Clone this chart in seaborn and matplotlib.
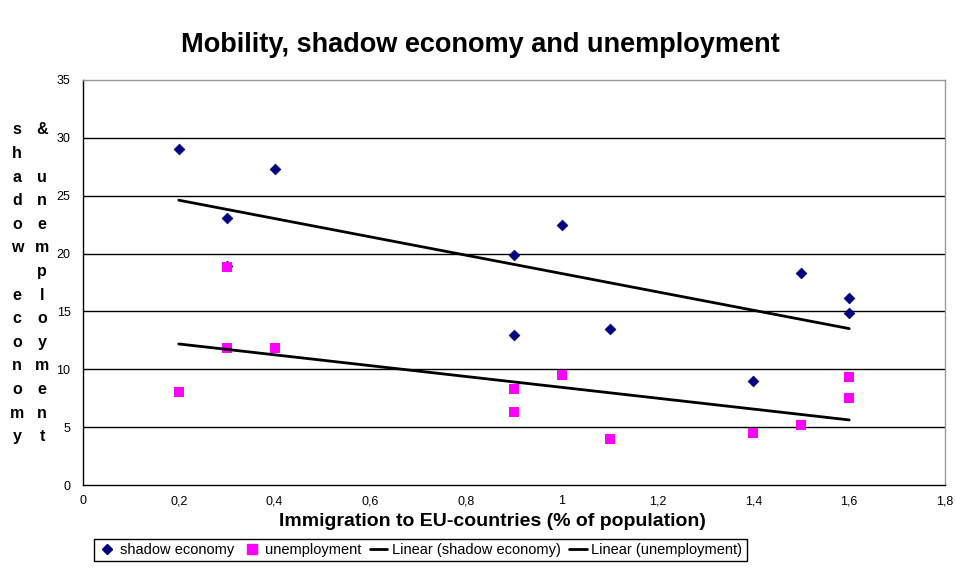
import matplotlib
matplotlib.use("Agg")
import matplotlib.pyplot as plt
import seaborn as sns
from matplotlib.lines import Line2D

# ── Data ───────────────────────────────────────────────────────────────────
immigration = [0.2, 0.3, 0.3, 0.4, 0.9, 0.9, 1.0, 1.1, 1.4, 1.5, 1.6, 1.6]
shadow      = [29.0, 23.1, 18.9, 27.3, 19.9, 13.0, 22.5, 13.5, 9.0, 18.3, 16.2, 14.9]
unemploy    = [8.0, 11.8, 18.8, 11.8, 8.3, 6.3, 9.5, 4.0, 4.5, 5.2, 9.3, 7.5]

x_ticks  = [0, 0.2, 0.4, 0.6, 0.8, 1.0, 1.2, 1.4, 1.6, 1.8]
x_labels = ["0", "0,2", "0,4", "0,6", "0,8", "1", "1,2", "1,4", "1,6", "1,8"]
y_ticks  = [0, 5, 10, 15, 20, 25, 30, 35]

NAVY    = "#000080"
MAGENTA = "#FF00FF"

sns.set_style("white")
plt.rcParams["font.family"] = ["Liberation Sans", "DejaVu Sans"]
plt.rcParams["text.color"] = "black"

W, H = 956, 585
fig = plt.figure(figsize=(W / 100, H / 100), dpi=100)
ax = fig.add_axes([83 / W, 1 - 485 / H, (945 - 83) / W, (485 - 80) / H])

# gridlines (black) – top edge of plot area is grey
for yv in y_ticks[1:-1]:
    ax.axhline(yv, color="black", lw=1.0, zorder=0)

# scatter
sns.scatterplot(x=immigration, y=shadow, marker="D", s=30, color=NAVY,
                edgecolor=NAVY, linewidth=0.5, ax=ax, zorder=3)
sns.scatterplot(x=immigration, y=unemploy, marker="s", s=45, color=MAGENTA,
                edgecolor=MAGENTA, linewidth=0, ax=ax, zorder=4)

# linear trendlines
sns.regplot(x=immigration, y=shadow, scatter=False, ci=None, truncate=True,
            line_kws=dict(color="black", lw=2, zorder=5), ax=ax)
sns.regplot(x=immigration, y=unemploy, scatter=False, ci=None, truncate=True,
            line_kws=dict(color="black", lw=2, zorder=5), ax=ax)

ax.set_xlim(0, 1.8)
ax.set_ylim(0, 35)
ax.set_xticks(x_ticks)
ax.set_xticklabels(x_labels)
ax.set_yticks(y_ticks)
ax.tick_params(axis="y", labelsize=9, direction="out", length=5, width=1,
               colors="black", pad=4)
ax.tick_params(axis="x", labelsize=9, direction="inout", length=7, width=1,
               colors="black", pad=4)
for side in ["top", "right"]:
    ax.spines[side].set_color("#999999")
    ax.spines[side].set_linewidth(1)
for side in ["left", "bottom"]:
    ax.spines[side].set_color("black")
    ax.spines[side].set_linewidth(1)
ax.set_xlabel("")
ax.set_ylabel("")

# title and x label
fig.text(480 / W, 1 - 45 / H, "Mobility, shadow economy and unemployment",
         ha="center", va="center", fontsize=19.5, fontweight="bold")
fig.text(492 / W, 1 - 521 / H, "Immigration to EU-countries (% of population)",
         ha="center", va="center", fontsize=14, fontweight="bold")

# stacked y label (Excel style, two columns)
columns = ["shadow economy", "& unemployment"]
col_x = [17, 42]
row_top, row_step = 130, 23.6
for cx, word in zip(col_x, columns):
    for i, ch in enumerate(word):
        if ch == " ":
            continue
        fig.text(cx / W, 1 - (row_top + i * row_step) / H, ch,
                 ha="center", va="center", fontsize=11.5, fontweight="bold")

# legend
handles = [
    Line2D([], [], marker="D", color=NAVY, ls="", markersize=5),
    Line2D([], [], marker="s", color=MAGENTA, ls="", markersize=7),
    Line2D([], [], color="black", lw=2),
    Line2D([], [], color="black", lw=2),
]
labels = ["shadow economy", "unemployment", "Linear (shadow economy)",
          "Linear (unemployment)"]
leg = fig.legend(handles, labels, loc="center", ncol=4,
                 bbox_to_anchor=(420 / W, 1 - 550 / H), fontsize=10.5,
                 frameon=True, fancybox=False, framealpha=1, edgecolor="black",
                 handlelength=1.2, handletextpad=0.3, columnspacing=0.6,
                 borderpad=0.3, borderaxespad=0)
leg.get_frame().set_linewidth(1)

fig.savefig("out.png", dpi=100)
plt.close(fig)
